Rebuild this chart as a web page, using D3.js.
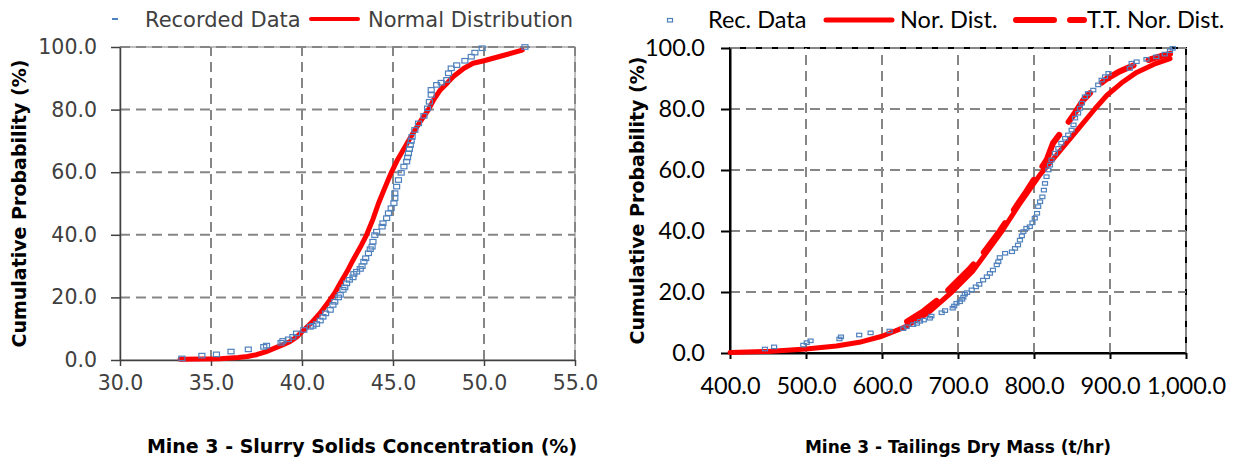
<!DOCTYPE html>
<html>
<head>
<meta charset="utf-8">
<script src="https://cdn.jsdelivr.net/npm/d3@7"></script>
<style>
  body { margin: 0; background: #fff; }
  svg { display: block; }
</style>
</head>
<body>
<svg id="chart" width="1247" height="463"></svg>
<script>
// ---- data ----
const probTicks = [0, 20, 40, 60, 80, 100]

// Mine 3 - slurry solids concentration (%) vs cumulative probability (%)
const slurryTicks = [30, 35, 40, 45, 50, 55]
const slurryRecorded = [
  [33.4, 0.5], [34.5, 1.4], [35.3, 1.8], [36.1, 2.7], [37.05, 3.4], [37.9, 4.2], [38.05, 4.6],
  [38.85, 5.5], [38.95, 6.1], [39.25, 6.6], [39.5, 7.4], [39.7, 8.5], [40.1, 9.6], [40.45, 10.6],
  [40.6, 10.9], [40.8, 11.5], [41.0, 12.6], [41.15, 13.8], [41.3, 14.9], [41.55, 16.0], [41.7, 17.6],
  [41.8, 18.6], [42.0, 20.0], [42.1, 20.8], [42.25, 22.4], [42.35, 23.2], [42.45, 24.5], [42.6, 25.6],
  [42.8, 26.4], [42.85, 27.5], [43.0, 28.2], [43.2, 29.1], [43.3, 30.0], [43.4, 31.4], [43.5, 32.5],
  [43.65, 34.1], [43.75, 35.4], [43.85, 36.2], [43.9, 37.8], [44.0, 39.9], [44.1, 41.0], [44.4, 42.6],
  [44.45, 43.7], [44.65, 45.3], [44.75, 46.9], [44.9, 48.5], [45.05, 50.1], [45.1, 51.7], [45.1, 53.3],
  [45.2, 55.4], [45.3, 57.5], [45.45, 59.8], [45.6, 61.8], [45.75, 63.4], [45.8, 64.7], [45.85, 66.0],
  [45.9, 67.4], [45.95, 68.7], [46.0, 70.0], [46.05, 71.3], [46.2, 73.5], [46.4, 75.6], [46.7, 78.0],
  [46.9, 80.4], [47.0, 82.5], [47.1, 84.7], [47.1, 86.3], [47.4, 87.9], [47.65, 88.6], [47.95, 89.5],
  [48.05, 91.6], [48.2, 93.2], [48.5, 94.2], [48.95, 95.6], [49.3, 96.9], [49.5, 98.2], [49.9, 99.6],
  [52.25, 100]
]
const slurryNormal = [
  [33.3, 0.2], [34.5, 0.3], [35.5, 0.4], [36.5, 0.8], [37.0, 1.1], [37.5, 1.7], [38.0, 2.6],
  [38.5, 3.8], [39.0, 5.0], [39.35, 5.9], [39.7, 7.3], [40.0, 9.0], [40.5, 11.8], [41.0, 15.0],
  [41.4, 18.1], [41.8, 21.4], [42.1, 24.5], [42.5, 28.5], [42.8, 31.9], [43.2, 36.0], [43.55, 40.0],
  [43.9, 45.0], [44.2, 50.0], [44.55, 55.0], [44.9, 59.8], [45.25, 64.0], [45.65, 68.0], [46.1, 72.5],
  [46.5, 76.2], [46.95, 80.0], [47.25, 83.3], [47.6, 86.3], [48.0, 88.6], [48.3, 90.5],
  [48.9, 93.2], [49.4, 94.8], [50.0, 95.6], [51.0, 97.2], [52.1, 99.0]
]

// Mine 3 - tailings dry mass (t/hr) vs cumulative probability (%)
const massTicks = [400, 500, 600, 700, 800, 900, 1000]
const massRecorded = [
  [446, 1.3], [458, 2.0], [496.5, 2.6], [501, 3.4], [506, 4.0], [544, 4.6], [546, 5.3], [570, 5.9],
  [585, 6.6], [610, 7.2], [628, 8.0], [632.5, 8.6], [641, 9.3], [646, 9.7], [650, 10.4], [655, 10.8],
  [663, 11.4], [665, 12.1], [678.5, 13.2], [683, 13.9], [693, 14.7], [695, 15.4], [698, 16.3],
  [702.5, 16.8], [705.5, 17.6], [707, 18.3], [709, 19.3], [712, 19.8], [718, 20.7], [723.5, 21.7],
  [728, 22.5], [733, 23.9], [738, 25.0], [742, 26.1], [746, 27.2], [751, 28.9], [753, 29.9],
  [755, 31.3], [762, 32.7], [771, 33.2], [775, 34.3], [779, 35.4], [781.5, 37.0], [784, 38.4],
  [786, 39.8], [790, 40.9], [794.5, 41.4], [798, 42.7], [801, 44.2], [804, 45.8], [805.5, 48.0],
  [808, 49.6], [811, 51.2], [813, 53.4], [814.5, 55.6], [816.5, 57.8], [819, 60.0], [821, 61.6],
  [823, 63.3], [827.5, 65.5], [832, 67.1], [836, 68.8], [841, 70.4], [845, 71.5], [849.5, 73.1],
  [852, 74.8], [854, 77.0], [858, 78.6], [860.5, 80.2], [863, 81.9], [867, 84.0], [871, 85.1],
  [878, 86.2], [884.5, 87.9], [889, 89.5], [893.5, 90.6], [898, 91.7], [926, 93.3], [928.5, 95.0],
  [935, 95.5], [948, 96.3], [961, 97.1], [972, 98.0], [979, 99.1], [982.5, 99.9]
]
const massNormal = [
  [400, 0.2], [450, 0.5], [500, 1.3], [540, 2.3], [570, 3.5], [600, 5.5], [630, 8.5], [660, 13.0],
  [692, 20.0], [720, 27.0], [758, 40.0], [780, 48.5], [808, 58.5], [830, 65.0], [855, 72.5],
  [880, 80.0], [896, 84.5], [915, 88.5], [935, 92.0], [958, 94.7], [979, 96.5]
]
const massTruncNormal = [
  [633, 10.3], [655, 13.8], [676, 17.9], [694, 22.3], [715, 27.5], [733, 32.7], [755, 40.0],
  [775, 47.5], [790, 53.0], [805, 58.9], [817, 63.5], [825, 68.8], [840, 73.8], [854, 78.8],
  [865, 83.0], [880, 86.8], [895, 89.8], [911, 92.1], [926, 93.8], [940, 95.2], [955, 96.4],
  [968, 97.4], [979, 98.1]
]

const RED = '#ff0000'
const BLUE = '#4f81bd'
const GRID = '#868686'
const TITLE_FONT = 'DejaVu Sans'

const svg = d3.select('#chart')

function drawPanel (p) {
  const x = d3.scaleLinear().domain(p.xDomain).range(p.xRange)
  const y = d3.scaleLinear().domain([0, 100]).range(p.yRange)
  const g = svg.append('g')

  // frame
  g.append('rect')
    .attr('x', p.xRange[0]).attr('y', p.yRange[1])
    .attr('width', p.xRange[1] - p.xRange[0]).attr('height', p.yRange[0] - p.yRange[1])
    .attr('fill', 'none').attr('stroke', p.frameColor).attr('stroke-width', p.frameWidth)

  // dashed grid
  g.selectAll('.vgrid').data(p.xTicks.slice(1)).join('line')
    .attr('x1', d => x(d)).attr('x2', d => x(d))
    .attr('y1', p.yRange[0]).attr('y2', p.yRange[1])
    .attr('stroke', GRID).attr('stroke-width', 2).attr('stroke-dasharray', '10,6')
  g.selectAll('.hgrid').data(probTicks.slice(1)).join('line')
    .attr('x1', p.xRange[0]).attr('x2', p.xRange[1])
    .attr('y1', d => y(d)).attr('y2', d => y(d))
    .attr('stroke', GRID).attr('stroke-width', 2).attr('stroke-dasharray', '10,6')

  // axes
  const xAxis = g.append('g').attr('transform', `translate(0,${p.yRange[0]})`)
    .call(d3.axisBottom(x).tickValues(p.xTicks).tickFormat(p.xFormat).tickSize(6).tickSizeOuter(0))
  const yAxis = g.append('g').attr('transform', `translate(${p.xRange[0]},0)`)
    .call(d3.axisLeft(y).tickValues(probTicks).tickFormat(d3.format('.1f')).tickSize(9).tickSizeOuter(0))
  for (const ax of [xAxis, yAxis]) {
    ax.select('.domain').attr('stroke', p.axisColor).attr('stroke-width', p.axisWidth)
    ax.selectAll('.tick line').attr('stroke', p.axisColor).attr('stroke-width', p.axisWidth)
    ax.selectAll('.tick text')
      .attr('font-family', p.font).attr('font-size', p.tickSize).attr('fill', p.textColor)
  }
  xAxis.selectAll('.tick text').attr('y', p.xLabelY).attr('dy', 0)
  yAxis.selectAll('.tick text').attr('x', p.yLabelX)

  // series
  const line = d3.line().x(d => x(d[0])).y(d => y(d[1]))
  for (const s of p.lines) {
    g.append('path').datum(s.data)
      .attr('d', line).attr('fill', 'none')
      .attr('stroke', RED).attr('stroke-width', s.width)
      .attr('stroke-linecap', 'round').attr('stroke-linejoin', 'round')
      .attr('stroke-dasharray', s.dash || null)
  }
  g.selectAll('.pt').data(p.points).join('rect')
    .attr('x', d => x(d[0]) - p.markW / 2).attr('y', d => y(d[1]) - p.markH / 2)
    .attr('width', p.markW).attr('height', p.markH)
    .attr('fill', 'none').attr('stroke', BLUE).attr('stroke-width', 1.2)

  // axis titles
  g.append('text')
    .attr('transform', `translate(${p.yTitleX},${(p.yRange[0] + p.yRange[1]) / 2}) rotate(-90)`)
    .attr('text-anchor', 'middle').attr('font-family', TITLE_FONT).attr('font-weight', 'bold')
    .attr('font-size', 19).attr('fill', '#000')
    .text('Cumulative Probability (%)')
  g.append('text')
    .attr('x', p.xTitleX).attr('y', 453)
    .attr('text-anchor', 'middle').attr('font-family', TITLE_FONT).attr('font-weight', 'bold')
    .attr('font-size', p.xTitleSize).attr('fill', '#000')
    .text(p.xTitle)

  // legend
  const lg = g.append('g').attr('font-family', p.font).attr('font-size', p.legendSize).attr('fill', p.textColor)
  for (const item of p.legend) {
    if (item.type === 'text') lg.append('text').attr('x', item.x).attr('y', p.legendY + 7.5).text(item.text)
    else if (item.type === 'dash') {
      lg.append('line').attr('x1', item.x1).attr('x2', item.x2).attr('y1', p.legendY).attr('y2', p.legendY)
        .attr('stroke', BLUE).attr('stroke-width', 2)
    } else if (item.type === 'square') {
      lg.append('rect').attr('x', item.x - 2.5).attr('y', p.legendY - 1.5).attr('width', 5).attr('height', 3.5)
        .attr('fill', 'none').attr('stroke', BLUE).attr('stroke-width', 1.2)
    } else {
      lg.append('line').attr('x1', item.x1).attr('x2', item.x2).attr('y1', p.legendY).attr('y2', p.legendY)
        .attr('stroke', RED).attr('stroke-width', item.width)
        .attr('stroke-linecap', 'round').attr('stroke-dasharray', item.dash || null)
    }
  }
}

drawPanel({
  xDomain: [30, 55], xRange: [120, 575], yRange: [360, 47],
  xTicks: slurryTicks, xFormat: d3.format('.1f'),
  frameColor: '#7f7f7f', frameWidth: 1, axisColor: '#404040', axisWidth: 1.5,
  font: 'DejaVu Sans', tickSize: 20.5, textColor: '#404040',
  xLabelY: 30, yLabelX: -23,
  points: slurryRecorded, markW: 6, markH: 4.5,
  lines: [{ data: slurryNormal, width: 5 }],
  yTitleX: 26, xTitleX: 362, xTitleSize: 19, xTitle: 'Mine 3 - Slurry Solids Concentration (%)',
  legendSize: 21, legendY: 19,
  legend: [
    { type: 'dash', x1: 112, x2: 118 },
    { type: 'text', x: 145, text: 'Recorded Data' },
    { type: 'line', x1: 311, x2: 358, width: 4 },
    { type: 'text', x: 368, text: 'Normal Distribution' }
  ]
})

drawPanel({
  xDomain: [400, 1000], xRange: [730, 1186], yRange: [353, 48],
  xTicks: massTicks, xFormat: d3.format(',.1f'),
  frameColor: '#000', frameWidth: 2, axisColor: '#000', axisWidth: 2,
  font: 'Lato', tickSize: 23.5, textColor: '#000',
  xLabelY: 41, yLabelX: -25,
  points: massRecorded, markW: 5, markH: 3.5,
  lines: [
    { data: massNormal, width: 5 },
    { data: massTruncNormal, width: 6, dash: '36,16' }
  ],
  yTitleX: 644, xTitleX: 958, xTitleSize: 17, xTitle: 'Mine 3 - Tailings Dry Mass (t/hr)',
  legendSize: 23.5, legendY: 20,
  legend: [
    { type: 'square', x: 670 },
    { type: 'text', x: 708, text: 'Rec. Data' },
    { type: 'line', x1: 826, x2: 892, width: 5 },
    { type: 'text', x: 900, text: 'Nor. Dist.' },
    { type: 'line', x1: 1016, x2: 1084, width: 6, dash: '38,16' },
    { type: 'text', x: 1087, text: 'T.T. Nor. Dist.' }
  ]
})
</script>
</body>
</html>
